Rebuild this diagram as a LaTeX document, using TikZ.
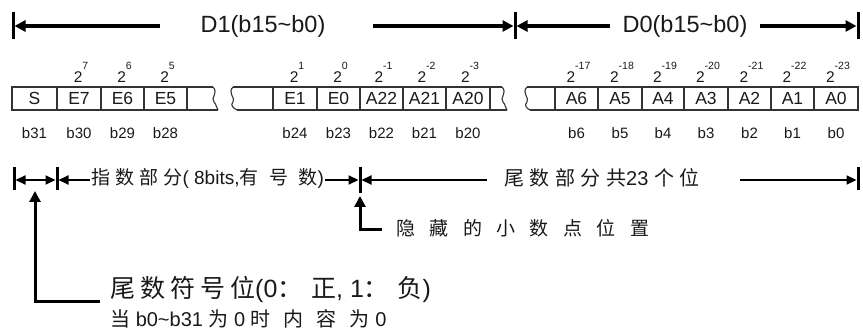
\documentclass[tikz,border=0pt]{standalone}
\usepackage{fontspec}
\setmainfont{Liberation Sans}
\newfontfamily\cjk{Noto Sans CJK SC}
\usetikzlibrary{arrows.meta}
\newcommand\pw[1]{2\raisebox{12.5pt}{\fontsize{10.5}{10}\selectfont #1}}
\newcommand\cj[2]{{\cjk\addfontfeature{LetterSpace=#1}#2}}
\begin{document}
\begin{tikzpicture}[x=1pt,y=-1pt,
  bigarrow/.style={line width=3.4pt,-{Triangle[length=11pt,width=11pt]}},
  medarrow/.style={line width=2.2pt,-{Triangle[length=10pt,width=9pt]}},
  callarrow/.style={line width=3pt,-{Triangle[length=11pt,width=11pt]}},
  barline/.style={line width=3pt},
  cellline/.style={line width=1.1pt,draw=black!80},
  cellbox/.style={draw=black!80,line width=1.1pt,minimum height=23pt,inner sep=0pt,
     font=\fontsize{17.5}{18}\selectfont,text=black!90},
  pwt/.style={anchor=base,inner sep=0pt,font=\fontsize{15.5}{15}\selectfont,text=black!90},
  bitt/.style={inner sep=0pt,font=\fontsize{15}{15}\selectfont,text=black!90},
  toptext/.style={inner sep=0pt,font=\fontsize{23.5}{24}\selectfont,text=black!90},
  midtext/.style={inner sep=0pt,font=\fontsize{19}{20}\selectfont,text=black!90},
]
\useasboundingbox (0,0) rectangle (863,331);

% ---------- top dimension line ----------
\draw[barline] (13,12) -- (13,39);
\draw[barline] (515,12) -- (515,39);
\draw[barline] (858,12) -- (858,39);
\node[toptext] (d1) at (263,26) {D1(b15\textasciitilde b0)};
\node[toptext] (d0) at (685,26) {D0(b15\textasciitilde b0)};
\coordinate (a1s) at (160,26);  \coordinate (a1e) at (14.5,26);
\coordinate (a2s) at (373,26);  \coordinate (a2e) at (513.5,26);
\coordinate (a3s) at (610,26);  \coordinate (a3e) at (516.5,26);
\coordinate (a4s) at (760,26);  \coordinate (a4e) at (856.5,26);
\draw[bigarrow] (a1s) -- (a1e);
\draw[bigarrow] (a2s) -- (a2e);
\draw[bigarrow] (a3s) -- (a3e);
\draw[bigarrow] (a4s) -- (a4e);

% ---------- register cells ----------
\node[cellbox,minimum width=45pt] (cS) at (34.5,98.5) {S};
\node[bitt] (bS) at (34.5,133) {b31};
\foreach \n/\l/\r/\e/\b in {E7/57/101/7/b30, E6/101/144/6/b29, E5/144/187/5/b28,
   E1/273/317/1/b24, E0/317/360/0/b23, A22/360/403/-1/b22, A21/403/446/-2/b21, A20/446/490/-3/b20,
   A6/555/598/-17/b6, A5/598/642/-18/b5, A4/642/684/-19/b4, A3/684/728/-20/b3,
   A2/728/771/-21/b2, A1/771/814/-22/b1, A0/814/858/-23/b0}{
  \node[cellbox,minimum width={\r-\l}] (c\n) at ({(\l+\r)/2},98.5) {\n};
  \node[pwt] (e\n) at ({(\l+\r)/2+2},82.5) {\pw{\e}};
  \node[bitt] (b\n) at ({(\l+\r)/2},133) {\b};
}
% broken (omitted) parts
\draw[cellline] (213,87) -- (187,87) (187,110) -- (218,110);
\draw[cellline] (213,87) .. controls (219,93) and (210,98) .. (214,102) .. controls (217,105) and (216,108) .. (218,110);
\draw[cellline] (233,87) -- (273,87) (273,110) -- (237,110);
\draw[cellline] (233,87) .. controls (227,93) and (236,98) .. (233,102) .. controls (230,105) and (233,108) .. (237,110);
\draw[cellline] (502,87) -- (490,87) (490,110) -- (507,110);
\draw[cellline] (502,87) .. controls (508,93) and (499,98) .. (503,102) .. controls (506,105) and (505,108) .. (507,110);
\draw[cellline] (527,87) -- (555,87) (555,110) -- (530,110);
\draw[cellline] (527,87) .. controls (521,93) and (530,98) .. (527,102) .. controls (524,105) and (526,108) .. (530,110);

% ---------- field dimension line ----------
\draw[barline] (14,167) -- (14,190);
\draw[barline] (57,167) -- (57,190);
\draw[barline] (360,167) -- (360,193);
\draw[barline] (858,167) -- (858,190);
\coordinate (s1) at (15.5,180); \coordinate (s2) at (55.5,180);
\draw[medarrow,{Triangle[length=10pt,width=9pt]}-{Triangle[length=10pt,width=9pt]}] (s1) -- (s2);
\node[midtext,anchor=west] (ex) at (91,178)
  {\cj{27}{指数部分}( 8bits,\cj{55}{有号数})};
\coordinate (x1s) at (90,180);  \coordinate (x1e) at (58.5,180);
\coordinate (x2s) at (325,180); \coordinate (x2e) at (358.5,180);
\draw[medarrow] (x1s) -- (x1e);
\draw[medarrow] (x2s) -- (x2e);
\node[midtext,font=\fontsize{20}{20}\selectfont] (man) at (602,178) {\cj{27}{尾数部分共}23 \cj{27}{个位}};
\coordinate (m1s) at (487,180); \coordinate (m1e) at (361.5,180);
\coordinate (m2s) at (740,180); \coordinate (m2e) at (856.5,180);
\draw[medarrow] (m1s) -- (m1e);
\draw[medarrow] (m2s) -- (m2e);

% ---------- callouts ----------
\node[midtext,anchor=west] (hid) at (396,228) {\cj{76}{隐藏的小数点位置}};
\coordinate (h0) at (382,230); \coordinate (h1) at (360,230); \coordinate (h2) at (360,196);
\draw[callarrow] (h0) -- (h1) -- (h2);

\node[inner sep=0pt,anchor=west,font=\fontsize{25}{25}\selectfont,text=black!90] (sg) at (110,290)
  {\cj{20}{尾数符号位}(0\cj{35}{：正}, 1\cj{35}{：负})};
\node[inner sep=0pt,anchor=west,font=\fontsize{20}{20}\selectfont,text=black!90] (zr) at (110,319)
  {\cj{65}{当} b0\textasciitilde b31 \cj{65}{为} 0 \cj{65}{时内容为} 0};
\coordinate (g0) at (100,302); \coordinate (g1) at (35,302); \coordinate (g2) at (35,191);
\draw[callarrow] (g0) -- (g1) -- (g2);
\end{tikzpicture}
\end{document}
